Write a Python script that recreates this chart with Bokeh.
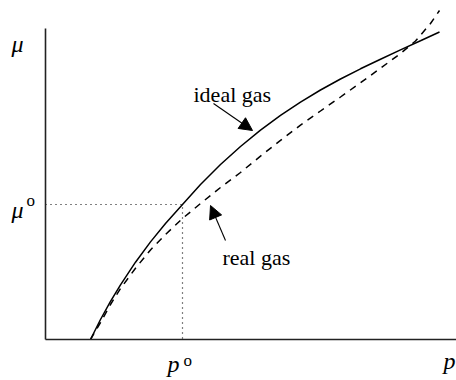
from bokeh.plotting import figure
from bokeh.models import Range1d, Label, Arrow, NormalHead, FixedTicker, LinearAxis
from bokeh.embed import file_html
from bokeh.resources import INLINE

# Data (arbitrary units: pressure p along x, chemical potential mu along y)
p_ideal = [45, 55, 65, 75, 90, 105, 120, 137, 155, 175, 195, 215, 235, 255, 275, 295, 315, 335, 355, 375, 394]
mu_ideal = [0, 20, 38.1, 54.7, 77.3, 97.6, 116, 135, 155, 175, 193, 209.4, 224.1, 237.4, 249.5, 260.5,
            270.7, 280.3, 289.6, 298.7, 307.5]

p_real = [45, 55, 65, 75, 90, 105, 120, 137, 155, 175, 195, 215, 235, 255, 275, 295, 315, 335, 355, 370, 385, 394]
mu_real = [0, 17, 35, 51, 71.3, 89.6, 105, 121, 136, 152, 167, 183.4, 199.1, 214.4, 228.5, 242.5,
           256.7, 271.3, 286, 298.5, 316, 329]

p_std = 137   # p°
mu_std = 135  # mu°
axis_top = 311
axis_right = 411

SERIF = "Liberation Serif"

p = figure(width=456, height=380, output_backend="svg", toolbar_location=None,
           x_range=Range1d(-45, 411), y_range=Range1d(-41, 339),
           x_axis_location=None, y_axis_location=None, min_border=0)
p.outline_line_color = None
p.grid.visible = False
p.background_fill_color = "white"
p.border_fill_color = "white"

yax = LinearAxis(fixed_location=0, bounds=(0, axis_top))
xax = LinearAxis(fixed_location=0, bounds=(0, axis_right))
for ax in (xax, yax):
    ax.ticker = FixedTicker(ticks=[])
    ax.major_tick_line_color = None
    ax.minor_tick_line_color = None
    ax.major_label_text_font_size = "0px"
    ax.axis_line_color = "#222222"
    ax.axis_line_width = 1.6
p.add_layout(yax, "left")
p.add_layout(xax, "below")

# reference dotted lines at p°, mu°
p.line([0, p_std, p_std], [mu_std, mu_std, 0], line_color="black", line_width=1.2, line_dash="1 4")

# curves
p.line(p_ideal, mu_ideal, line_color="black", line_width=1.5)
p.line(p_real, mu_real, line_color="black", line_width=1.5, line_dash="7 6")

# arrows
p.add_layout(Arrow(end=NormalHead(size=13, fill_color="black", line_color="black"),
                   x_start=168, y_start=236, x_end=207, y_end=209, line_width=1.1))
p.add_layout(Arrow(end=NormalHead(size=13, fill_color="black", line_color="black"),
                   x_start=180, y_start=99, x_end=165, y_end=134, line_width=1.1))

def lab(x, y, t, size="22px", style="normal"):
    p.add_layout(Label(x=x, y=y, text=t, text_font=SERIF, text_font_size=size,
                       text_font_style=style, text_color="black", text_baseline="alphabetic",
                       text_align="left"))

lab(148, 245, "ideal gas")
lab(177, 82, "real gas")
lab(-34, 296, "μ", "24px", "italic")
lab(-34, 130, "μ", "24px", "italic")
lab(-19, 139, "o", "17px")
lab(122, -24, "p", "24px", "italic")
lab(138, -21, "o", "17px")
lab(398, -21, "p", "24px", "italic")

open("out.html", "w").write(file_html(p, INLINE))
